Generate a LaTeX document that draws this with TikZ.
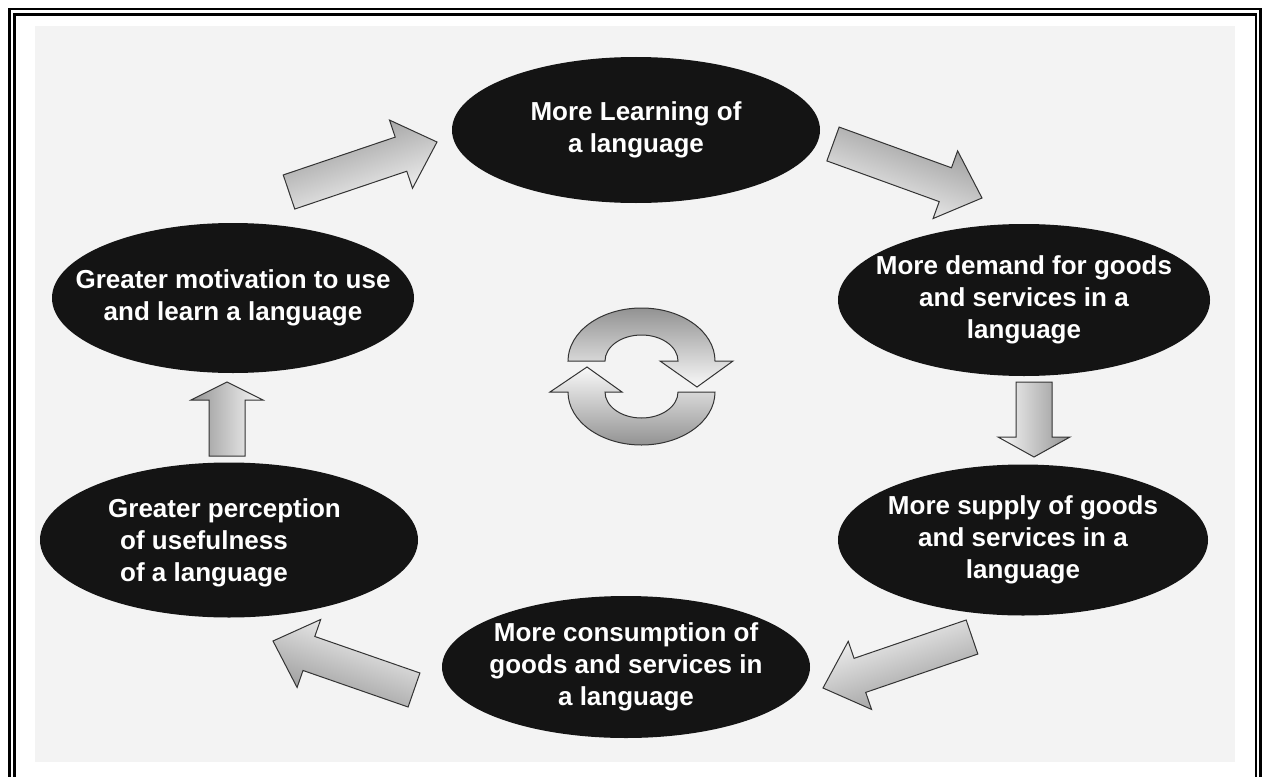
\documentclass[tikz,border=0pt]{standalone}
\usepackage{fontspec}
\setmainfont{Liberation Sans}
\usetikzlibrary{calc,shapes.geometric}
\definecolor{bgc}{HTML}{F3F3F3}
\definecolor{ellc}{HTML}{141414}
\definecolor{edgec}{HTML}{333333}
\tikzset{
  bub/.style={ellipse, fill=ellc, draw=none, inner sep=0pt},
  btxt/.style={text=white, font=\bfseries\fontsize{26}{32}\selectfont, align=center, inner sep=0pt},
  blockst/.style={draw=edgec, line width=1pt, line join=miter, top color=gray!85, bottom color=white!96!gray},
  framest/.style={line width=2.4pt, black}
}
% #1 name, #2 tail coord, #3 tip coord, #4 head length, #5 shading angle
\newcommand\blockarrow[5]{%
  \coordinate (#1-b) at ($(#3)!#4pt!(#2)$);
  \path[blockst, shading angle=#5]
    ($(#2)!18pt!90:(#3)$) -- ($(#1-b)!18pt!90:(#3)$) -- ($(#1-b)!36pt!90:(#3)$) --
    (#3) -- ($(#1-b)!36pt!-90:(#3)$) -- ($(#1-b)!18pt!-90:(#3)$) --
    ($(#2)!18pt!-90:(#3)$) -- cycle;
}
\begin{document}
\begin{tikzpicture}[x=1pt,y=-1pt]
\useasboundingbox (0,0) rectangle (1263,776);
\fill[white] (0,0) rectangle (1263,776);
\draw[framest] (9.5,780) -- (9.5,9.2) -- (1260.5,9.2) -- (1260.5,780);
\draw[framest] (14.5,780) -- (14.5,14.7) -- (1256.2,14.7) -- (1256.2,780);
\fill[bgc] (35,26) rectangle (1235,762);

% ellipses
\node[bub, minimum width=368, minimum height=146] (learn) at (636,130) {};
\node[bub, minimum width=362, minimum height=150] (motiv) at (233,298) {};
\node[bub, minimum width=372, minimum height=152] (demand) at (1024,300) {};
\node[bub, minimum width=370, minimum height=151] (supply) at (1023,540) {};
\node[bub, minimum width=378, minimum height=155] (percep) at (229,540) {};
\node[bub, minimum width=368, minimum height=142] (consum) at (626,667) {};

\node[btxt] (t-learn) at (learn) {More Learning of\\a language};
\node[btxt] (t-motiv) at (motiv) {Greater motivation to use\\and learn a language};
\node[btxt] (t-demand) at (demand) {More demand for goods\\and services in a\\language};
\node[btxt] (t-supply) at (supply) {More supply of goods\\and services in a\\language};
\node[btxt, align=left, anchor=west] (t-percep) at (108,543) {Greater perception\\\hspace*{12pt}of usefulness\\\hspace*{12pt}of a language};
\node[btxt] (t-consum) at (consum) {More consumption of\\goods and services in\\a language};

% block arrows
\coordinate (a1t) at (289,192); \coordinate (a1h) at (437,142);
\coordinate (a2t) at (833,144); \coordinate (a2h) at (982,198);
\coordinate (a3t) at (1034,382); \coordinate (a3h) at (1034,457);
\coordinate (a4t) at (227,456); \coordinate (a4h) at (227,382);
\coordinate (a5t) at (972,637); \coordinate (a5h) at (823,688);
\coordinate (a6t) at (414,690); \coordinate (a6h) at (273,641);
\blockarrow{a1}{a1t}{a1h}{38}{18.7}
\blockarrow{a2}{a2t}{a2h}{39}{-19.9}
\blockarrow{a3}{a3t}{a3h}{20}{-90}
\blockarrow{a4}{a4t}{a4h}{18}{90}
\blockarrow{a5}{a5t}{a5h}{39}{-161.1}
\blockarrow{a6}{a6t}{a6h}{38}{160.8}

% central cycle icon
\path[blockst, top color=gray!85, bottom color=white!95!gray]
  (568,361) arc[start angle=180, end angle=0, x radius=73.5pt, y radius=53pt]
  -- (733,361) -- (697,387) -- (660,361) -- (678,361)
  arc[start angle=0, end angle=180, x radius=36.5pt, y radius=26pt] -- cycle;
\path[blockst, top color=white!95!gray, bottom color=gray!85]
  (715,392) arc[start angle=0, end angle=-180, x radius=73.5pt, y radius=53pt]
  -- (550,392) -- (587,367) -- (622,392) -- (605,392)
  arc[start angle=180, end angle=360, x radius=36.5pt, y radius=26pt] -- cycle;
\end{tikzpicture}
\end{document}
